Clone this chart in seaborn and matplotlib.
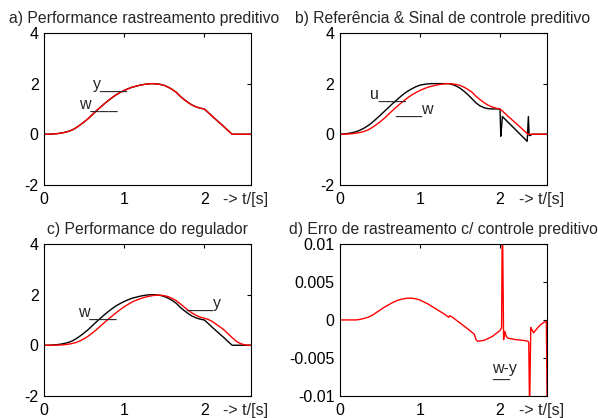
import matplotlib
matplotlib.use('Agg')
import matplotlib.pyplot as plt
import seaborn as sns

# time grid for the smooth curves
t = [0.00, 0.05, 0.10, 0.15, 0.20, 0.25, 0.30, 0.35, 0.40, 0.45,
     0.50, 0.55, 0.60, 0.65, 0.70, 0.75, 0.80, 0.85, 0.90, 0.95,
     1.00, 1.05, 1.10, 1.15, 1.20, 1.25, 1.30, 1.35, 1.40, 1.45,
     1.50, 1.55, 1.60, 1.65, 1.70, 1.75, 1.80, 1.85, 1.90, 1.95,
     2.00, 2.05, 2.10, 2.15, 2.20, 2.25, 2.30, 2.35, 2.40, 2.45,
     2.50, 2.55, 2.60]

# reference trajectory w
w = [0.00, 0.00, 0.01, 0.02, 0.04, 0.07, 0.11, 0.17, 0.26, 0.37,
     0.49, 0.62, 0.77, 0.92, 1.06, 1.20, 1.33, 1.45, 1.56, 1.65,
     1.73, 1.80, 1.86, 1.90, 1.94, 1.97, 1.99, 2.00, 1.99, 1.97,
     1.93, 1.86, 1.77, 1.66, 1.50, 1.37, 1.25, 1.15, 1.08, 1.03,
     1.00, 0.86, 0.71, 0.57, 0.43, 0.29, 0.14, 0.00, 0.00, 0.00,
     0.00, 0.00, 0.00]

# predictive tracking output (a) - indistinguishable from w
y_pred = w

# regulator output (c)
y_reg = [0.00, 0.00, 0.00, 0.005, 0.01, 0.02, 0.04, 0.07, 0.11, 0.18,
         0.26, 0.36, 0.48, 0.61, 0.75, 0.89, 1.03, 1.16, 1.29, 1.41,
         1.52, 1.62, 1.71, 1.78, 1.84, 1.89, 1.93, 1.96, 1.98, 1.98,
         1.96, 1.92, 1.85, 1.76, 1.64, 1.51, 1.38, 1.27, 1.18, 1.11,
         1.07, 1.02, 0.94, 0.83, 0.72, 0.60, 0.45, 0.30, 0.16, 0.07,
         0.02, 0.00, 0.00]

# predictive control signal u (b)
u_t = [0.00, 0.05, 0.10, 0.15, 0.20, 0.25, 0.30, 0.35, 0.40, 0.45,
       0.50, 0.55, 0.60, 0.65, 0.70, 0.75, 0.80, 0.85, 0.90, 0.95,
       1.00, 1.05, 1.10, 1.15, 1.20, 1.25, 1.30, 1.35, 1.40, 1.45,
       1.50, 1.55, 1.60, 1.65, 1.70, 1.75, 1.80, 1.85, 1.90, 1.95,
       2.00, 2.01, 2.02, 2.03, 2.34, 2.355, 2.365, 2.38, 2.40, 2.60]
u = [0.00, 0.01, 0.03, 0.06, 0.10, 0.16, 0.24, 0.34, 0.46, 0.60,
     0.74, 0.89, 1.04, 1.19, 1.33, 1.47, 1.60, 1.71, 1.80, 1.88,
     1.94, 1.97, 1.99, 2.00, 2.00, 2.00, 2.00, 2.00, 1.97, 1.91,
     1.82, 1.70, 1.56, 1.40, 1.24, 1.12, 1.05, 1.01, 1.00, 1.00,
     1.00, -0.08, 0.30, 0.70, -0.28, 0.70, -0.05, -0.05, 0.00, 0.00]

# tracking error w-y with predictive control (d), in units of 1e-3
e_t = [0.00, 0.10, 0.20, 0.25, 0.30, 0.35, 0.40, 0.45, 0.50, 0.55,
       0.60, 0.65, 0.70, 0.75, 0.80, 0.85, 0.90, 0.95, 1.00, 1.10,
       1.20, 1.30, 1.36, 1.37, 1.40, 1.50, 1.60, 1.68, 1.70, 1.72,
       1.80, 1.90, 2.00, 2.02, 2.03, 2.045, 2.06, 2.08, 2.10, 2.20,
       2.30, 2.35, 2.36, 2.37, 2.385, 2.40, 2.42, 2.45, 2.50, 2.55,
       2.58, 2.59]
e = [0.0, 0.0, 0.0, 0.08, 0.2, 0.35, 0.6, 0.95, 1.3, 1.65,
     1.95, 2.25, 2.5, 2.68, 2.8, 2.87, 2.86, 2.78, 2.62, 2.1,
     1.45, 0.8, 0.35, 0.55, 0.4, -0.4, -1.2, -1.9, -2.6, -2.8,
     -2.7, -2.2, -1.4, -1.0, 15.0, -2.6, -1.5, -2.2, -2.4, -2.6,
     -2.7, -2.8, -3.0, -12.0, -1.0, -1.3, -1.7, -1.3, -0.7, -0.3,
     -0.2, -12.0]
e = [v * 1e-3 for v in e]

sns.set_style('white')
plt.rcParams['font.family'] = ['Liberation Sans', 'DejaVu Sans']

fig, axes = plt.subplots(2, 2, figsize=(5.98, 4.18), dpi=100)
fig.subplots_adjust(left=0.074, right=0.915, top=0.921, bottom=0.053,
                    wspace=0.428, hspace=0.39)
ax_a, ax_b, ax_c, ax_d = axes.flat

lw = 1.0
sns.lineplot(x=t, y=w, color='black', lw=lw, estimator=None, ax=ax_a)
sns.lineplot(x=t, y=y_pred, color='red', lw=lw, estimator=None, ax=ax_a)

sns.lineplot(x=u_t, y=u, color='black', lw=lw, estimator=None, sort=False, ax=ax_b)
sns.lineplot(x=t, y=w, color='red', lw=lw, estimator=None, ax=ax_b)

sns.lineplot(x=t, y=w, color='black', lw=lw, estimator=None, ax=ax_c)
sns.lineplot(x=t, y=y_reg, color='red', lw=lw, estimator=None, ax=ax_c)

sns.lineplot(x=e_t, y=e, color='red', lw=lw, estimator=None, sort=False, ax=ax_d)

titles = ['a) Performance rastreamento preditivo',
          'b) Referência & Sinal de controle preditivo',
          'c) Performance do regulador',
          'd) Erro de rastreamento c/ controle preditivo']
title_x = [0.48, 0.495, 0.5, 0.5]

for ax, title, tx in zip(axes.flat, titles, title_x):
    ax.set_xlim(0, 2.59)
    ax.set_xticks([0, 1, 2])
    ax.set_xticklabels(['0', '1', '2'])
    ax.tick_params(direction='in', top=True, right=True, length=3, width=0.8,
                   labelsize=11.5, colors='black', pad=4)
    ax.tick_params(axis='x', pad=5)
    for s in ax.spines.values():
        s.set_color('black')
        s.set_linewidth(0.8)
    ax.text(2.24, -0.045, '-> t/[s]', transform=ax.get_xaxis_transform(),
            ha='left', va='top', fontsize=11.5)
    ax.set_title(title, fontsize=11.3, x=tx, pad=7)

for ax in [ax_a, ax_b, ax_c]:
    ax.set_ylim(-2, 4)
    ax.set_yticks([-2, 0, 2, 4])
    ax.set_yticklabels(['-2', '0', '2', '4'])

ax_d.set_ylim(-0.01, 0.01)
ax_d.set_yticks([-0.01, -0.005, 0, 0.005, 0.01])
ax_d.set_yticklabels(['-0.01', '-0.005', '0', '0.005', '0.01'])

# curve labels
fs = 11.5
ax_a.text(0.61, 1.78, 'y___', fontsize=fs)
ax_a.text(0.44, 1.02, 'w___', fontsize=fs)
ax_b.text(0.375, 1.38, 'u___', fontsize=fs)
ax_b.text(0.69, 0.81, '___w', fontsize=fs)
ax_c.text(0.42, 1.11, 'w___', fontsize=fs)
ax_c.text(1.78, 1.48, '___y', fontsize=fs)
# underlined "w-y" as one text block
ax_d.text(1.9, -0.0076, 'w-y\n__', fontsize=fs, va='baseline', linespacing=0.1)

fig.savefig('out.png', dpi=100)
